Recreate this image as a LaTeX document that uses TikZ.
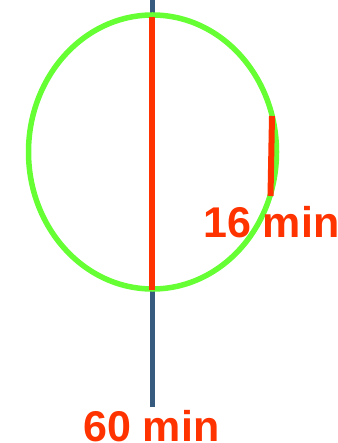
\documentclass[tikz,border=0pt]{standalone}
\usepackage{fontspec}
\setmainfont{Liberation Sans}
\definecolor{ringgreen}{HTML}{66FF33}
\definecolor{markred}{HTML}{FF3300}
\definecolor{axisblue}{HTML}{365B7F}
\begin{document}
\begin{tikzpicture}[x=1pt,y=-1pt,
  ring/.style={draw=ringgreen,line width=5.5pt},
  axisline/.style={draw=axisblue,line width=5pt},
  redseg/.style={draw=markred,line width=6pt},
  lbl/.style={text=markred,font=\bfseries\fontsize{43}{43}\selectfont,inner sep=0pt,anchor=base west}]
\useasboundingbox (0,0) rectangle (337,443);
\coordinate (top) at (152,0);
\coordinate (bot) at (152,407);
\coordinate (rtop) at (152,17);
\coordinate (rbot) at (152,290);
\coordinate (stop) at (272,116);
\coordinate (sbot) at (270.5,196);
\draw[axisline] (top) -- (bot);
\draw[ring] (152.5,152) ellipse [x radius=124, y radius=137];
\draw[redseg] (rtop) -- (rbot);
\draw[redseg] (stop) -- (sbot);
\node[lbl] (l16) at (203,237) {16 min};
\node[lbl] (l60) at (83,441) {60 min};
\end{tikzpicture}
\end{document}
